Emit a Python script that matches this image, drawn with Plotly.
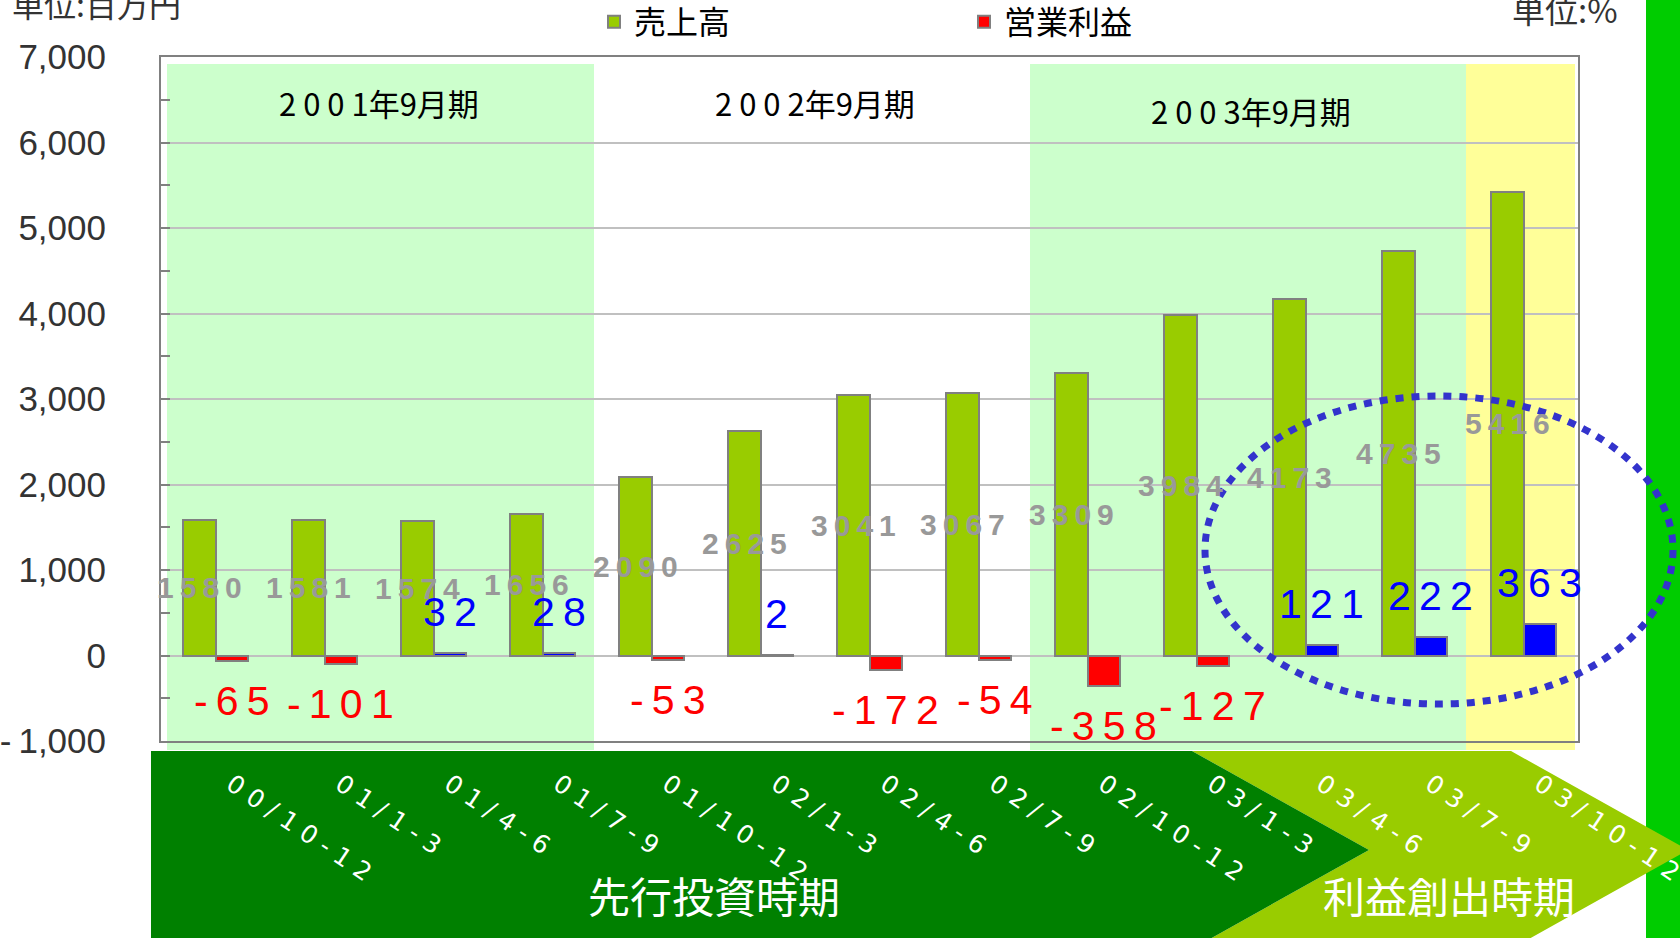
import plotly.graph_objects as go

# ---------------------------------------------------------------------------
# DATA
# ---------------------------------------------------------------------------
quarters = ["00/10-12", "01/1-3", "01/4-6", "01/7-9", "01/10-12", "02/1-3",
            "02/4-6", "02/7-9", "02/10-12", "03/1-3", "03/4-6", "03/7-9", "03/10-12"]
sales = [1580, 1581, 1574, 1656, 2090, 2625, 3041, 3067, 3309, 3984, 4173, 4735, 5416]
op_income = [-65, -101, 32, 28, -53, 2, -172, -54, -358, -127, 121, 222, 363]

fiscal_years = ["2001年9月期", "2002年9月期", "2003年9月期"]
period_first = [0, 4, 8, 12]
period_last = [3, 7, 11, 12]
phases = ["先行投資時期", "利益創出時期"]

y_tickvals = [-1000, 0, 1000, 2000, 3000, 4000, 5000, 6000, 7000]
y_ticktext = ["-\u20091,000", "0", "1,000", "2,000", "3,000", "4,000", "5,000", "6,000", "7,000"]

# ---------------------------------------------------------------------------
# LAYOUT GEOMETRY (pixels on a 1680 x 938 canvas)
# ---------------------------------------------------------------------------
W, H = 1680, 938
L, R, T, B = 161, 1578, 57, 741
JP = "Noto Sans CJK JP"
AX = "Liberation Sans"
THIN = "\u2009"


def fx(x):
    return (x - L) / (R - L)


def fy(y):
    return (B - y) / (B - T)


def cat_edge(k):
    return L + (R - L) * k / len(quarters)


def spaced(s, sep=" "):
    return sep.join(s)


x_idx = list(range(len(quarters)))

fig = go.Figure()
fig.add_trace(go.Bar(
    x=x_idx, y=sales, name="売上高",
    offset=-0.3, width=0.3,
    marker=dict(color="#99CC00", line=dict(color="#808080", width=2)),
))
fig.add_trace(go.Bar(
    x=x_idx, y=op_income, name="営業利益",
    offset=0, width=0.3,
    marker=dict(color=["#FF0000" if v < 0 else "#0000FF" for v in op_income],
                line=dict(color="#808080", width=2)),
))

shapes = []
# bright green strip at the right edge
shapes.append(dict(type="rect", xref="paper", yref="paper", layer="below",
                   x0=fx(1646), x1=fx(1700), y0=fy(950), y1=fy(-10),
                   fillcolor="#00CC00", line_width=0))
# fiscal period shading
period_fill = ["#CCFFCC", "rgba(0,0,0,0)", "#CCFFCC", "#FFFF99"]
for f, l, c in zip(period_first, period_last, period_fill):
    shapes.append(dict(type="rect", xref="paper", yref="paper", layer="below",
                       x0=fx(max(cat_edge(f) - 3, 167)), x1=fx(min(cat_edge(l + 1) - 3, 1577)),
                       y0=fy(750), y1=fy(64), fillcolor=c, line_width=0))


def poly(pts):
    return "M " + " L ".join(f"{fx(a):.5f},{fy(b):.5f}" for a, b in pts) + " Z"


# phase arrows along the bottom
shapes.append(dict(type="path", xref="paper", yref="paper", layer="below",
                   path=poly([(1192, 751), (1511, 751), (1688, 850), (1511, 949),
                              (1192, 949), (1369, 850)]),
                   fillcolor="#99CC00", line_width=0))
shapes.append(dict(type="path", xref="paper", yref="paper", layer="below",
                   path=poly([(151, 751), (1192, 751), (1369, 850), (1192, 949), (151, 949)]),
                   fillcolor="#008000", line_width=0))
# dotted ellipse highlighting the profit period
shapes.append(dict(type="circle", xref="paper", yref="paper", layer="above",
                   x0=fx(1205), x1=fx(1673), y0=fy(704), y1=fy(396),
                   line=dict(color="#3333CC", width=7, dash="8px,8px")))

ann = []
# sales labels, centred on the green bars at half height
for i, v in enumerate(sales):
    ann.append(dict(x=i - 0.15, y=v / 2, text=spaced(str(v), THIN), showarrow=False,
                    xanchor="center", yanchor="middle",
                    font=dict(family=AX, size=30, color="#999999", weight="bold")))
# operating income labels beyond the bar ends
for i, v in enumerate(op_income):
    txt = "-" + THIN + spaced(str(abs(v)), THIN) if v < 0 else spaced(str(v), THIN)
    ann.append(dict(x=i + 0.15, y=v, text=txt, showarrow=False,
                    xanchor="center", yanchor="middle",
                    yshift=-40 if v < 0 else 41,
                    font=dict(family=AX, size=41, color="#FF0000" if v < 0 else "#0000FF")))
# fiscal year headings
fy_y = [6470, 6470, 6370]
for name, f, l, yy in zip(fiscal_years, period_first, period_last, fy_y):
    label = spaced(name[:4]) + name[4:]
    ann.append(dict(x=(f + l) / 2, y=yy, text=label, showarrow=False,
                    xanchor="center", yanchor="middle",
                    font=dict(family=JP, size=31, color="#000000")))
# phase names
for name, xc in zip(phases, [714, 1449]):
    ann.append(dict(xref="paper", yref="paper", x=fx(xc), y=fy(894), text=name,
                    xanchor="center", yanchor="middle",
                    showarrow=False, font=dict(family=JP, size=42, color="#FFFFFF")))
# units
ann.append(dict(xref="paper", yref="paper", x=fx(10), y=fy(3), xanchor="left", yanchor="middle",
                text="単位:百万円", showarrow=False, font=dict(family=JP, size=32, color="#333333")))
ann.append(dict(xref="paper", yref="paper", x=fx(1510), y=fy(9), xanchor="left", yanchor="middle",
                text="単位:%", showarrow=False, font=dict(family=JP, size=33, color="#333333")))

fig.update_layout(
    width=W, height=H,
    margin=dict(l=L, r=W - R, t=T, b=H - B, pad=0, autoexpand=False),
    paper_bgcolor="#FFFFFF", plot_bgcolor="rgba(0,0,0,0)",
    barmode="overlay", bargap=0,
    showlegend=True,
    legend=dict(orientation="h", x=fx(594), y=fy(22), xanchor="left", yanchor="middle",
                entrywidth=325, font=dict(family=JP, size=32, color="#000000"),
                bgcolor="rgba(0,0,0,0)", traceorder="normal"),
    shapes=shapes,
    annotations=ann,
    xaxis=dict(range=[-0.5, 12.5], tickvals=x_idx,
               ticktext=[spaced(q) for q in quarters],
               tickangle=34, ticks="", showgrid=False, zeroline=False,
               showline=True, linecolor="#808080", linewidth=2, mirror=True,
               ticklabelstandoff=17, ticklabelshift=16, ticklabeloverflow="allow",
               tickfont=dict(family="DejaVu Sans", size=25, color="#FFFFFF")),
    yaxis=dict(range=[-1000, 7000], tickvals=y_tickvals, ticktext=y_ticktext,
               ticks="inside", ticklen=9, tickcolor="#808080", tickwidth=2,
               minor=dict(dtick=500, ticks="inside", ticklen=9, tickcolor="#808080",
                          showgrid=False),
               showgrid=True, gridcolor="#C0C0C0", gridwidth=2, zeroline=False,
               showline=True, linecolor="#808080", linewidth=2, mirror=True,
               ticklabelstandoff=46, ticklabeloverflow="allow",
               tickfont=dict(family=AX, size=35, color="#333333")),
)

fig.write_html("out.html", config={"displayModeBar": False},
               post_script="document.body.style.margin='0';document.body.style.overflow='hidden';")
